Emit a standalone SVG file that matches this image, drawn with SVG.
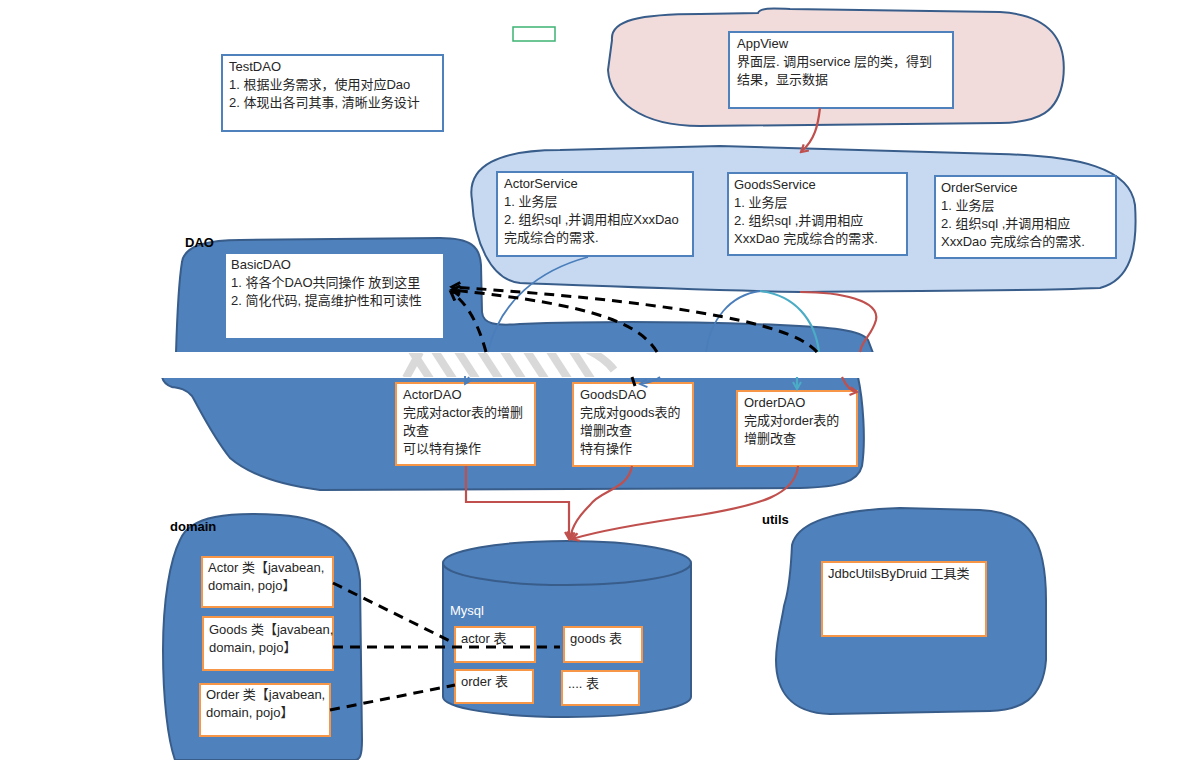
<svg xmlns="http://www.w3.org/2000/svg" width="1185" height="760" viewBox="0 0 1185 760">
<style>
text{font-family:"Liberation Sans","Noto Sans CJK SC",sans-serif;font-size:13px;fill:#262626}
.lbl{font-weight:bold;font-size:13px;fill:#000}
.wb{fill:#fff;stroke:#f79646;stroke-width:2}
.bb{fill:#fff;stroke:#4f81bd;stroke-width:2}
.blob{fill:#4f81bd;stroke:#385d8a;stroke-width:2}
.dash{fill:none;stroke:#000;stroke-width:3;stroke-dasharray:10 7}
.red{fill:none;stroke:#c0504d;stroke-width:2.2}
.blu{fill:none;stroke:#4a7ebb;stroke-width:1.8}
.cy{fill:none;stroke:#4bacc6;stroke-width:2.2}
</style>
<defs>
<marker id="ar" markerWidth="10" markerHeight="10" refX="8" refY="5" orient="auto" markerUnits="userSpaceOnUse"><path d="M1,1 L8,5 L1,9" fill="none" stroke="#c0504d" stroke-width="2.2"/></marker>
<marker id="ak" markerWidth="12" markerHeight="12" refX="9" refY="6" orient="auto" markerUnits="userSpaceOnUse"><path d="M1,1 L9,6 L1,11" fill="none" stroke="#000" stroke-width="3"/></marker>
<marker id="ab" markerWidth="10" markerHeight="10" refX="8" refY="5" orient="auto" markerUnits="userSpaceOnUse"><path d="M1,1 L8,5 L1,9" fill="none" stroke="#4a7ebb" stroke-width="1.8"/></marker>
<marker id="ac" markerWidth="10" markerHeight="10" refX="8" refY="5" orient="auto" markerUnits="userSpaceOnUse"><path d="M1,1 L8,5 L1,9" fill="none" stroke="#4bacc6" stroke-width="2"/></marker>
<clipPath id="gap"><rect x="160" y="353" width="720" height="24"/></clipPath>
</defs>
<rect width="1185" height="760" fill="#fff"/>

<!-- blobs -->
<g id="appview-layer">
<path d="M612,40 C610,20 640,14 700,14 L758,13 C760,8 770,8 790,9 L1000,12 C1050,15 1068,40 1063,80 C1058,112 1040,122 1000,123 L700,126 C640,126 610,100 608,70 Z" fill="#f2dcdb" stroke="#385d8a" stroke-width="2"/>
</g>
<g id="service-layer">
<path d="M472,200 C466,165 500,150 560,150 L720,146 C800,148 900,152 1000,154 C1080,156 1130,168 1135,205 C1138,250 1130,280 1100,288 C1000,292 900,290 800,292 C700,290 600,286 520,283 C490,280 474,240 472,200 Z" fill="#c6d9f1" stroke="#385d8a" stroke-width="2"/>
</g>
<g id="dao-layer">
<path class="blob" d="M182,262 C184,246 205,240 240,240 L440,238 C470,238 480,246 481,265 L482,312 C483,324 495,326 520,324 C600,321 700,322 780,325 C830,327 862,330 868,340 L873,353 L176,353 C177,320 179,280 182,262 Z"/>
<path class="blob" d="M162,377 L858,377 C863,400 866,440 862,466 C858,482 840,487 800,488 L320,490 C280,485 250,475 230,458 C212,435 200,410 192,396 C185,388 178,388 172,387 C166,385 163,381 162,377 Z"/>
<rect x="160" y="352" width="720" height="26" fill="#fff"/>
<g clip-path="url(#gap)" stroke="#d9d9d9" stroke-width="8">
<line x1="420" y1="352" x2="406" y2="378"/>
<line x1="410" y1="348" x2="432" y2="382"/>
<line x1="433" y1="348" x2="455" y2="382"/>
<line x1="456" y1="348" x2="478" y2="382"/>
<line x1="479" y1="348" x2="501" y2="382"/>
<line x1="502" y1="348" x2="524" y2="382"/>
<line x1="525" y1="348" x2="547" y2="382"/>
<line x1="548" y1="348" x2="570" y2="382"/>
<line x1="571" y1="348" x2="593" y2="382"/>
<path d="M588,350 C600,356 608,362 614,370" fill="none"/>
</g>
<text class="lbl" x="185" y="247">DAO</text>
</g>
<g id="domain-layer">
<path class="blob" d="M180,540 C190,515 230,512 280,515 C330,518 356,540 360,580 L362,740 C362,755 360,760 355,760 L175,760 C168,740 163,700 163,650 C163,600 170,560 180,540 Z"/>
<text class="lbl" x="170" y="531">domain</text>
</g>
<g id="utils-layer">
<path class="blob" d="M792,545 C798,520 840,510 900,508 L980,510 C1030,512 1046,540 1046,600 L1046,660 C1043,700 1020,710 990,711 L830,714 C790,713 776,690 776,660 C776,640 782,620 784,606 C786,598 790,590 792,545 Z"/>
<text class="lbl" x="762" y="524">utils</text>
</g>

<!-- misc -->
<rect x="513" y="27" width="42" height="14" fill="none" stroke="#3cb371" stroke-width="1.5"/>

<g id="TestDAO">
<rect class="bb" x="222" y="55" width="221" height="76"/>
<text x="229" y="71">TestDAO</text>
<text x="229" y="89">1. 根据业务需求，使用对应Dao</text>
<text x="229" y="107">2. 体现出各司其事, 清晰业务设计</text>
</g>

<g id="AppView">
<rect class="bb" x="729" y="32" width="224" height="76"/>
<text x="737" y="48">AppView</text>
<text x="737" y="66">界面层. 调用service 层的类，得到</text>
<text x="737" y="84">结果，显示数据</text>
</g>

<g id="ActorService">
<rect class="bb" x="497" y="172" width="196" height="84"/>
<text x="504" y="188">ActorService</text>
<text x="504" y="206">1. 业务层</text>
<text x="504" y="224">2. 组织sql ,并调用相应XxxDao</text>
<text x="504" y="242">完成综合的需求.</text>
</g>
<g id="GoodsService">
<rect class="bb" x="728" y="173" width="179" height="82"/>
<text x="734" y="189">GoodsService</text>
<text x="734" y="207">1. 业务层</text>
<text x="734" y="225">2. 组织sql ,并调用相应</text>
<text x="734" y="243">XxxDao 完成综合的需求.</text>
</g>
<g id="OrderService">
<rect class="bb" x="935" y="176" width="181" height="82"/>
<text x="941" y="192">OrderService</text>
<text x="941" y="210">1. 业务层</text>
<text x="941" y="228">2. 组织sql ,并调用相应</text>
<text x="941" y="246">XxxDao 完成综合的需求.</text>
</g>

<g id="BasicDAO">
<rect x="226" y="254" width="217" height="84" fill="#fff"/>
<text x="231" y="269">BasicDAO</text>
<text x="231" y="287">1. 将各个DAO共同操作 放到这里</text>
<text x="231" y="305">2.  简化代码, 提高维护性和可读性</text>
</g>

<g id="ActorDAO">
<rect class="wb" x="396" y="383" width="139" height="82"/>
<text x="403" y="399">ActorDAO</text>
<text x="403" y="417">完成对actor表的增删</text>
<text x="403" y="435">改查</text>
<text x="403" y="453">可以特有操作</text>
</g>
<g id="GoodsDAO">
<rect class="wb" x="573" y="383" width="120" height="83"/>
<text x="580" y="399">GoodsDAO</text>
<text x="580" y="417">完成对goods表的</text>
<text x="580" y="435">增删改查</text>
<text x="580" y="453">特有操作</text>
</g>
<g id="OrderDAO">
<rect class="wb" x="737" y="391" width="120" height="75"/>
<text x="744" y="407">OrderDAO</text>
<text x="744" y="425">完成对order表的</text>
<text x="744" y="443">增删改查</text>
</g>

<g id="Mysql">
<path class="blob" d="M443,563 L443,697 A124,20 0 0 0 691,697 L691,563"/>
<ellipse class="blob" cx="567" cy="563" rx="124" ry="22"/>
<text x="450" y="615" style="fill:#fff">Mysql</text>
</g>
<g id="actor-table"><rect class="wb" x="455" y="627" width="80" height="35"/><text x="461" y="643">actor 表</text></g>
<g id="goods-table"><rect class="wb" x="564" y="627" width="78" height="35"/><text x="570" y="643">goods 表</text></g>
<g id="order-table"><rect class="wb" x="455" y="670" width="78" height="33"/><text x="461" y="686">order 表</text></g>
<g id="more-table"><rect class="wb" x="562" y="671" width="77" height="34"/><text x="568" y="688">.... 表</text></g>

<g id="Actor">
<rect class="wb" x="202" y="557" width="131" height="50"/>
<text x="208" y="572">Actor 类【javabean,</text>
<text x="208" y="590">domain, pojo】</text>
</g>
<g id="Goods">
<rect class="wb" x="203" y="617" width="130" height="53"/>
<text x="209" y="634">Goods 类【javabean,</text>
<text x="209" y="652">domain, pojo】</text>
</g>
<g id="Order">
<rect class="wb" x="200" y="684" width="130" height="52"/>
<text x="206" y="699">Order 类【javabean,</text>
<text x="206" y="717">domain, pojo】</text>
</g>

<g id="JdbcUtilsByDruid">
<rect class="wb" x="822" y="562" width="164" height="74"/>
<text x="828" y="578">JdbcUtilsByDruid 工具类</text>
</g>

<g id="connectors">
<!-- AppView -> service -->
<path class="red" d="M820,108 C818,125 815,140 801,152" marker-end="url(#ar)"/>
<!-- service -> DAO blue / cyan curves -->
<path class="blu" d="M588,257 C540,270 500,300 488,352"/>
<path class="blu" d="M469,377 L465,384" marker-end="url(#ab)"/>
<path class="blu" d="M760,291 C730,295 710,320 706,352"/>
<path class="blu" d="M660,377 C655,381 648,383 640,384" marker-end="url(#ab)"/>
<path class="cy" d="M760,291 C795,295 815,320 819,352"/>
<path class="cy" d="M797,377 L797,389" marker-end="url(#ac)"/>
<path class="red" d="M800,292 C840,292 880,300 876,320 C872,335 862,340 860,352"/>
<path class="red" d="M842,377 C846,386 850,391 857,392" marker-end="url(#ar)"/>
<!-- DAO -> BasicDAO dashed -->
<path class="dash" d="M486,352 C480,330 470,305 451,292" marker-end="url(#ak)"/>
<path class="dash" d="M657,352 C640,325 600,305 452,290" marker-end="url(#ak)"/>
<path class="dash" d="M817,352 C790,320 650,300 452,287" marker-end="url(#ak)"/>
<path class="dash" d="M632,377 L635,386"/>
<!-- DAO -> Mysql -->
<path class="red" d="M466,466 L466,502 L569,502 L569,539" marker-end="url(#ar)"/>
<path class="red" d="M632,466 C628,490 600,490 590,505 C580,515 572,525 570,539" marker-end="url(#ar)"/>
<path class="red" d="M798,466 C795,495 760,505 700,515 C630,525 595,532 572,539" marker-end="url(#ar)"/>
<!-- domain -> tables -->
<path class="dash" d="M333,583 L452,642"/>
<path class="dash" d="M333,647 L560,647"/>
<path class="dash" d="M330,710 L455,685"/>
</g>
</svg>
